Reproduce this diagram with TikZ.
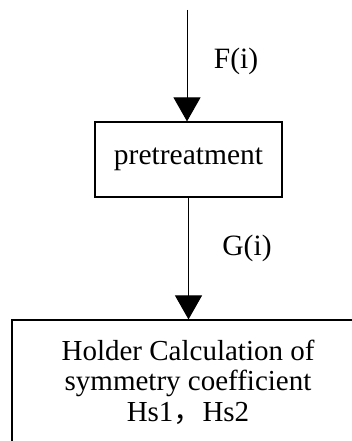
\documentclass[tikz,border=0pt]{standalone}
\usepackage{fontspec}
\setmainfont{Liberation Serif}
\newfontfamily\cjk{Noto Sans CJK SC}
\usetikzlibrary{arrows.meta, positioning}

\begin{document}
\begin{tikzpicture}[x=1pt, y=-1pt, line width=1pt,
    every node/.style={font=\fontsize{29.5}{30}\selectfont},
    flowbox/.style={draw, line width=1.2pt, inner sep=0pt},
    flowarrow/.style={-{Triangle[width=27pt, length=24pt]}}]
    \useasboundingbox (0,0) rectangle (352,441);
    \clip (0,0) rectangle (352,441);

    % Input
    \coordinate (in) at (187,10);

    % Pretreatment
    \node[flowbox, minimum width=187pt, minimum height=75pt] (pre) at (188.5,159.5) {pretreatment};

    % Holder box (cut off at the right and bottom)
    \node[flowbox, minimum width=352pt, minimum height=124pt, align=center,
          font=\fontsize{29}{30.5}\selectfont] (hold) at (188,382)
        {Holder Calculation of\\symmetry coefficient\\Hs1{\cjk ，}Hs2};

    % Arrows
    \draw[flowarrow] (in) -- (in |- pre.north);
    \draw[flowarrow] (pre.south) -- (pre.south |- hold.north);

    % Labels
    \node (fi) at (236,61) {F(i)};
    \node (gi) at (247,248) {G(i)};
\end{tikzpicture}
\end{document}
